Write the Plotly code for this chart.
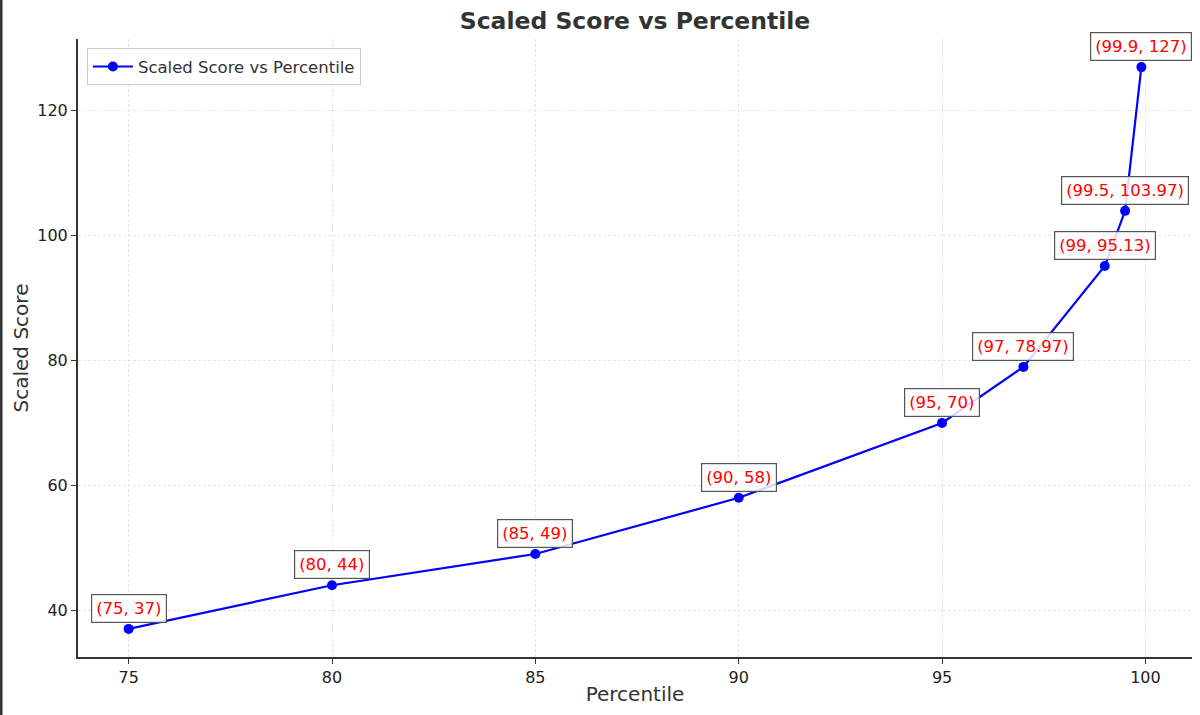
import plotly.graph_objects as go

percentile = [75, 80, 85, 90, 95, 97, 99, 99.5, 99.9]
scaled_score = [37, 44, 49, 58, 70, 78.97, 95.13, 103.97, 127]
labels = ["(75, 37)", "(80, 44)", "(85, 49)", "(90, 58)", "(95, 70)",
          "(97, 78.97)", "(99, 95.13)", "(99.5, 103.97)", "(99.9, 127)"]
x_ticks = [75, 80, 85, 90, 95, 100]
y_ticks = [40, 60, 80, 100, 120]

FONT = "DejaVu Sans"

fig = go.Figure()
fig.add_trace(go.Scatter(
    x=percentile, y=scaled_score, mode="lines+markers",
    name="Scaled Score vs Percentile",
    line=dict(color="#0000ff", width=2.2),
    marker=dict(color="#0000ff", size=10),
))

for xv, yv, lab in zip(percentile, scaled_score, labels):
    fig.add_annotation(
        x=xv, y=yv, text=lab, showarrow=False,
        xanchor="center", yanchor="bottom", yshift=6,
        font=dict(family=FONT, size=16.5, color="#ff0000"),
        bgcolor="rgba(255,255,255,0.85)", bordercolor="#555555",
        borderwidth=1.2, borderpad=4,
    )

fig.add_shape(type="line", xref="paper", yref="paper",
              x0=-77/1114, x1=-77/1114, y0=-58/618, y1=1 + 39/618,
              line=dict(color="#333333", width=3))

fig.update_layout(
    width=1200, height=715,
    margin=dict(l=78, r=8, t=39, b=58),
    paper_bgcolor="white", plot_bgcolor="white",
    font=dict(family=FONT, color="#222222"),
    title=dict(text="<b>Scaled Score vs Percentile</b>", xref="paper", x=0.5, xanchor="center",
               y=1 - 21/715, yanchor="middle",
               font=dict(family=FONT, size=23.5, color="#333333")),
    showlegend=True,
    legend=dict(x=0.008, y=0.985, xanchor="left", yanchor="top",
                bgcolor="white", bordercolor="#cccccc", borderwidth=1,
                itemwidth=40,
                font=dict(family=FONT, size=16.5, color="#333333")),
    xaxis=dict(
        range=[73.755, 101.145], tickvals=x_ticks,
        title=dict(text="Percentile", font=dict(family=FONT, size=20, color="#333333"), standoff=1),
        showgrid=True, gridcolor="#e6e6e6", griddash="3px,2px", gridwidth=1,
        showline=True, linecolor="#333333", linewidth=2,
        ticks="outside", ticklen=5, tickcolor="#333333",
        tickfont=dict(family=FONT, size=16, color="#222222"),
        zeroline=False,
    ),
    yaxis=dict(
        range=[32.5, 131.5], tickvals=y_ticks,
        title=dict(text="Scaled Score", font=dict(family=FONT, size=20, color="#333333"), standoff=3),
        showgrid=True, gridcolor="#e6e6e6", griddash="3px,2px", gridwidth=1,
        showline=True, linecolor="#333333", linewidth=2,
        ticks="outside", ticklen=5, tickcolor="#333333",
        tickfont=dict(family=FONT, size=16, color="#222222"),
        zeroline=False,
    ),
)

fig.write_html("out.html", config={"displayModeBar": False},
               post_script="document.body.style.margin='0';")
